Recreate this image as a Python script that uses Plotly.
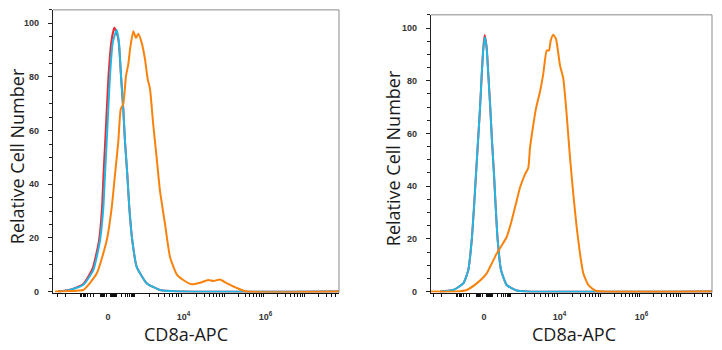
import numpy as np
import plotly.graph_objects as go

# ---------------- data (x in biexponential display units, 0 = zero channel) -------------
# Left panel
red_L_x = [-50, -38, -25, -15.5, -9, -6, -4.5, -2.8, -1.2, 0.5, 3.2, 6.3, 9.5, 11, 13, 15.3, 17, 19.3, 21.3, 24.3, 28.7, 38.7, 52, 75, 231]
red_L_y = [0, 0.7, 2.7, 8.5, 19, 31, 43.6, 55.9, 68, 80.4, 92.7, 98.3, 95.5, 92, 80.4, 68, 55.9, 43.6, 31.3, 19, 9.2, 3.1, 0.6, 0, 0]
cyan_L_x = [-48, -38, -24.7, -14.7, -8, -4.7, -3, -1.3, 0.3, 2, 4.7, 8.7, 11, 13, 15.3, 17, 19.3, 21.3, 24.3, 28.7, 38.7, 52, 75, 231]
cyan_L_y = [0, 0.6, 2.5, 8, 19, 31, 43.6, 55.9, 68, 80.4, 92.7, 97.6, 92.7, 80.4, 68, 55.9, 43.6, 31.3, 19, 9.2, 3.1, 0.6, 0, 0]
orange_L_x = [-53, -38, -24.7, -11.3, -1.3, 3.7, 7, 10.3, 12.7, 15.3, 18, 20.3, 22, 25.3, 28, 30.3, 33.7, 37, 39.7, 42,
              45.3, 48.7, 52, 57, 62, 68.7, 75.3, 83.7, 92, 100.3, 105.3, 112, 118.7, 127, 138.7, 231]
orange_L_y = [0, 0.2, 0.6, 6.7, 19, 31.3, 43.6, 55.9, 68, 70, 80.4, 84.7, 90.2, 97, 94.5, 96.1, 92.7, 86.6, 79.2, 75.5,
              62, 49.7, 37.5, 25.2, 12.9, 6.4, 4.3, 2.7, 3.3, 4.3, 3.9, 4.5, 3.1, 1.6, 0, 0]

# Right panel
red_R_x = [-44, -30.7, -20.7, -15.7, -12.3, -10, -8, -6, -4, -2.3, -0.7, 0.7, 2.7, 4.3, 6.3, 8, 10, 11.7, 13.7, 17, 22.7, 32.7, 42.7, 228]
red_R_y = [0, 0.6, 3.1, 8.2, 19.4, 32, 44.5, 57, 69.5, 82, 92.5, 97.3, 92.5, 82.5, 69.5, 57, 44.5, 32, 19.4, 8.2, 2.5, 0.4, 0, 0]
cyan_R_x = [-44, -30.7, -20.7, -15.7, -12.3, -10, -8, -6, -4, -2.3, -0.7, 1, 2.7, 4.3, 6.3, 8, 10, 11.7, 13.7, 17, 22.7, 32.7, 42.7, 228]
cyan_R_y = [0, 0.6, 3.1, 8.2, 19.4, 32, 44.5, 57, 69.5, 82, 92, 96.5, 92, 82, 69.5, 57, 44.5, 32, 19.4, 8.2, 2.5, 0.4, 0, 0]
orange_R_x = [-53, -27.3, -17.3, -7.3, 2.7, 7.7, 12.7, 17.7, 22.7, 27.7, 32.7, 36, 41, 44.3, 46, 49.3, 52, 56, 59.3, 62.7,
              65, 66.7, 69.3, 72, 76, 79.3, 82.7, 86, 89.3, 92.7, 96, 99.3, 104.3, 111, 117.7, 228]
orange_R_y = [0, 0, 0.6, 3.1, 6.9, 10.6, 14.4, 17.5, 20.7, 27, 34.5, 39.5, 44.5, 47, 54.5, 63.3, 69.5, 75.8, 82.7, 91.5,
              91.5, 95.2, 97.4, 95.9, 85.8, 80.8, 67, 50.8, 37, 24.4, 14.4, 6.9, 2.5, 0.4, 0, 0]

# ---------------- axis tick definitions ----------------
decade_pos = [-28, 0, 27.5, 75.5, 118.5, 157.5, 198.5]      # -10^3, 0, 10^3 ... 10^7
label_pos = [0, 75.5, 157.5]
label_text = ["0", "10<sup>4</sup>", "10<sup>6</sup>"]
y_major = [0, 20, 40, 60, 80, 100]
y_major_text = ["0", "20", "40", "60", "80", "100"]

# minor tick positions of the biexponential display (k x 10^j)
segments = [(2, 8), (8, 27.5), (27.5, 75.5), (75.5, 118.5), (118.5, 157.5), (157.5, 198.5)]
minor_pos = [2, -2, 8, -8]
for a, b in segments:
    for k in range(2, 10):
        p = a + (b - a) * np.log10(k)
        minor_pos.append(round(p, 2))
        if b <= 27.5:
            minor_pos.append(-round(p * (28 / 27.5) if b == 27.5 else p, 2))
for k in (2, 3):
    minor_pos.append(round(-28 - 48 * np.log10(k), 2))
for k in (2, 3, 4, 5):
    minor_pos.append(round(198.5 + 41 * np.log10(k), 2))

RED = "#ec2a33"
CYAN = "#22b7e2"
ORANGE = "#f9820c"

fig = go.Figure()

def add(xs, ys, color, ax):
    fig.add_trace(go.Scatter(x=xs, y=ys, mode="lines", xaxis=ax[0], yaxis=ax[1],
                             line=dict(color=color, width=2, shape="spline", smoothing=0.5),
                             showlegend=False, hoverinfo="skip"))

add(red_L_x, red_L_y, RED, ("x", "y"))
add(cyan_L_x, cyan_L_y, CYAN, ("x", "y"))
add(orange_L_x, orange_L_y, ORANGE, ("x", "y"))
add(red_R_x, red_R_y, RED, ("x2", "y2"))
add(cyan_R_x, cyan_R_y, CYAN, ("x2", "y2"))
add(orange_R_x, orange_R_y, ORANGE, ("x2", "y2"))

W, H = 722, 350
tickfont = dict(family="Liberation Sans, Arial", size=9, color="#333333", weight="bold")

def xax(dom, rng, anchor):
    return dict(domain=dom, range=rng, anchor=anchor, showgrid=False, zeroline=False,
                showline=True, linecolor="#111111", linewidth=1.3, mirror=False,
                tickmode="array", tickvals=label_pos, ticktext=label_text,
                ticks="outside", ticklen=8, tickcolor="rgba(0,0,0,0)",
                tickfont=tickfont, ticklabelstandoff=7,
                minor=dict(tickmode="array", tickvals=minor_pos, ticks="outside",
                           ticklen=3, tickwidth=1, tickcolor="#111111"),
                fixedrange=True)

def xmajor(base, anchor):
    # overlay axis carrying the long decade ticks (no labels)
    return dict(overlaying=base, matches=base, anchor=anchor, side="bottom",
                showgrid=False, zeroline=False, showline=False, showticklabels=False,
                tickmode="array", tickvals=decade_pos,
                ticks="outside", ticklen=6, tickwidth=1.6, tickcolor="#111111",
                fixedrange=True)

def yax(dom, anchor):
    return dict(domain=dom, range=[-0.4, 105], anchor=anchor, showgrid=False, zeroline=False,
                showline=True, linecolor="#222222", linewidth=1.2, mirror=False,
                tickmode="array", tickvals=y_major, ticktext=y_major_text,
                ticks="outside", ticklen=4, tickwidth=1.3, tickcolor="#222222",
                tickfont=tickfont, ticklabelstandoff=7,
                minor=dict(tickmode="linear", tick0=0, dtick=5, ticks="outside",
                           ticklen=2.5, tickwidth=1, tickcolor="#222222"),
                fixedrange=True)

bottom = 1 - 296 / H
fig.update_layout(
    width=W, height=H, margin=dict(l=0, r=0, t=0, b=0),
    paper_bgcolor="white", plot_bgcolor="white",
    xaxis=xax([53 / W, 339 / W], [-55, 231], "y"),
    yaxis=yax([bottom, 1 - 10 / H], "x"),
    xaxis2=xax([431 / W, 712 / W], [-53, 228], "y2"),
    yaxis2=yax([bottom, 1 - 15 / H], "x2"),
    xaxis3=xmajor("x", "y"),
    xaxis4=xmajor("x2", "y2"),
)

# gray top/right frame lines
for xr, yr in (("x domain", "y domain"), ("x2 domain", "y2 domain")):
    fig.add_shape(type="line", xref=xr, yref=yr, x0=0, x1=1, y0=1, y1=1,
                  line=dict(color="#8a8a8a", width=1))
    fig.add_shape(type="line", xref=xr, yref=yr, x0=1, x1=1, y0=0, y1=1,
                  line=dict(color="#8a8a8a", width=1))

title_font = dict(family="Open Sans, Noto Sans", size=18, color="#1a1a1a")
for cx, cy in ((185.5, 338), (573.5, 338)):
    fig.add_annotation(text="CD8a-APC", xref="paper", yref="paper", x=cx / W, y=1 - cy / H,
                       xanchor="center", yanchor="middle", showarrow=False, font=title_font)
for cx, cy in ((17, 158), (393, 160)):
    fig.add_annotation(text="Relative Cell Number", xref="paper", yref="paper", x=cx / W, y=1 - cy / H,
                       xanchor="center", yanchor="middle", showarrow=False, font=title_font, textangle=-90)

fig.write_html("out.html")
